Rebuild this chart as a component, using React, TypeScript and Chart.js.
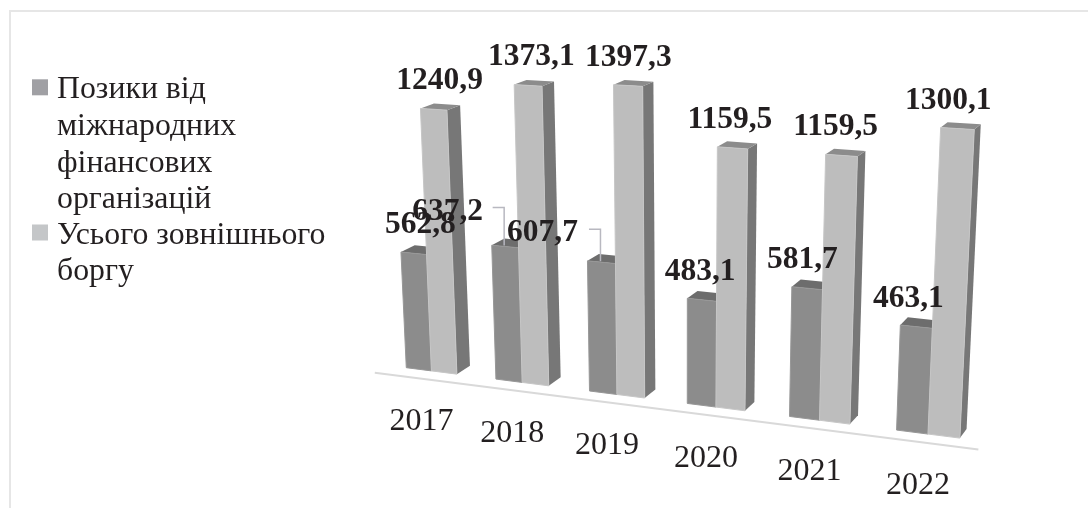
import React, { useEffect, useRef } from "react";
import { Chart, registerables } from "chart.js";

Chart.register(...registerables);

// ---- data ----
const years = ["2017", "2018", "2019", "2020", "2021", "2022"];
const loans = [562.8, 637.2, 607.7, 483.1, 581.7, 463.1];
const totalDebt = [1240.9, 1373.1, 1397.3, 1159.5, 1159.5, 1300.1];
const loansLabel = ["Позики від", "міжнародних", "фінансових", "організацій"];
const totalLabel = ["Усього зовнішнього", "боргу"];

// ---- view (how the flat plot is projected into the tilted 3D look) ----
const VALUE_MAX = 1400;
const CORNER_00 = [387.5, 365.3];
const CORNER_10 = [984.2, 441.2];
const CORNER_11 = [1001.2, 106];
const CORNER_01 = [373, 70.5];
const VANISH = [1492, -286];
const BAR_DEPTH = 0.0126;
const AXIS_DEPTH = -0.0115;

const INK = "#231f20";
const DARK = { front: "#8c8c8c", top: "#6d6d6d", side: "#6d6d6d", edge: "#979797" };
const LIGHT = { front: "#bdbdbd", top: "#8c8c8c", side: "#777777", edge: "#c6c6c6" };

// labels that were dragged away from their bars, with a leader line
const movedLoanLabels: Record<number, [number, number]> = { 1: [-57.5, -27], 2: [-59, -21] };

function makeProjection() {
  const [x0, y0] = CORNER_00;
  const [x1, y1] = CORNER_10;
  const [x2, y2] = CORNER_11;
  const [x3, y3] = CORNER_01;
  const dx1 = x1 - x2, dy1 = y1 - y2, dx2 = x3 - x2, dy2 = y3 - y2;
  const sx = x0 - x1 + x2 - x3, sy = y0 - y1 + y2 - y3;
  const den = dx1 * dy2 - dx2 * dy1;
  const g = (sx * dy2 - dx2 * sy) / den;
  const h = (dx1 * sy - sx * dy1) / den;
  const a = x1 - x0 + g * x1, b = x3 - x0 + h * x3;
  const d = y1 - y0 + g * y1, e = y3 - y0 + h * y3;
  return (u: number, v: number) => {
    const w = g * u + h * v + 1;
    return [(a * u + b * v + x0) / w, (d * u + e * v + y0) / w];
  };
}
const projectUnit = makeProjection();
const toDepth = (p: number[], k: number) => [p[0] + k * (VANISH[0] - p[0]), p[1] + k * (VANISH[1] - p[1])];

function poly(ctx: CanvasRenderingContext2D, pts: number[][], fill: string, edge?: string) {
  ctx.beginPath();
  pts.forEach((p, i) => (i ? ctx.lineTo(p[0], p[1]) : ctx.moveTo(p[0], p[1])));
  ctx.closePath();
  ctx.fillStyle = fill;
  ctx.fill();
  if (edge) {
    ctx.strokeStyle = edge;
    ctx.lineWidth = 1;
    ctx.stroke();
  }
}

const tilted3d = {
  id: "tilted3d",
  beforeDatasetsDraw(chart: any) {
    const ctx: CanvasRenderingContext2D = chart.ctx;
    const area = chart.chartArea;
    const P = (px: number, py: number) =>
      projectUnit((px - area.left) / (area.right - area.left), (area.bottom - py) / (area.bottom - area.top));

    ctx.save();
    // frame
    ctx.fillStyle = "#e6e6e6";
    ctx.fillRect(9, 10, 1079, 2);
    ctx.fillRect(9, 10, 2, 498);

    // axis line
    const a0 = toDepth(P(area.left, area.bottom), AXIS_DEPTH);
    const a1 = toDepth(P(area.right, area.bottom), AXIS_DEPTH);
    ctx.strokeStyle = "#d9d9d9";
    ctx.lineWidth = 2;
    ctx.beginPath();
    ctx.moveTo(a0[0], a0[1]);
    ctx.lineTo(a1[0], a1[1]);
    ctx.stroke();

    const metas = [chart.getDatasetMeta(0), chart.getDatasetMeta(1)];
    const skins = [DARK, LIGHT];
    const tops: number[][][] = [[], []];

    years.forEach((_, i) => {
      metas.forEach((meta, s) => {
        const el = meta.data[i];
        const skin = skins[s];
        const l = el.x - el.width / 2, r = el.x + el.width / 2;
        const fl = P(l, el.base), fr = P(r, el.base), tr = P(r, el.y), tl = P(l, el.y);
        poly(ctx, [fr, toDepth(fr, BAR_DEPTH), toDepth(tr, BAR_DEPTH), tr], skin.side);
        poly(ctx, [tl, tr, toDepth(tr, BAR_DEPTH), toDepth(tl, BAR_DEPTH)], skin.top);
        poly(ctx, [fl, fr, tr, tl], skin.front, skin.edge);
        tops[s][i] = [(tl[0] + tr[0]) / 2, (tl[1] + tr[1]) / 2];
      });
    });

    // year labels along the tilted axis
    ctx.textAlign = "center";
    ctx.textBaseline = "alphabetic";
    ctx.fillStyle = INK;
    ctx.font = '32px "Liberation Serif"';
    years.forEach((_, i) => {
      const el = metas[0].data[i];
      const b = P(el.x + el.width / 2, el.base);
      ctx.fillText(chart.data.labels[i], b[0] - 10, b[1] + 59.5);
    });

    // value labels
    const fmt = (v: number) => v.toFixed(1).replace(".", ",");
    ctx.font = 'bold 31.5px "Liberation Serif"';
    chart.data.datasets.forEach((ds: any, s: number) => {
      ds.data.forEach((v: number, i: number) => {
        const t = tops[s][i];
        const moved = s === 0 ? movedLoanLabels[i] : undefined;
        let x = t[0] - (t[0] - 640) * 0.029;
        let y = t[1] - 20;
        if (moved) {
          x = t[0] + moved[0];
          y = t[1] + moved[1];
          const ty = y - 12;
          ctx.strokeStyle = "#b8b8c0";
          ctx.lineWidth = 1.5;
          ctx.beginPath();
          ctx.moveTo(t[0] - 12.5, ty);
          ctx.lineTo(t[0] - 1, ty);
          ctx.lineTo(t[0] - 1, t[1] - 1);
          ctx.stroke();
        }
        ctx.fillStyle = INK;
        ctx.fillText(fmt(v), x, y);
      });
    });

    // legend
    const rows: [string[], string, number][] = [
      [loansLabel, "#a0a0a4", 98.3],
      [totalLabel, "#c4c6c8", 243.5],
    ];
    ctx.textAlign = "left";
    ctx.font = '31.8px "Liberation Serif"';
    rows.forEach(([lines, color, base]) => {
      ctx.fillStyle = color;
      ctx.fillRect(32, base - 19, 16, 16);
      ctx.fillStyle = INK;
      lines.forEach((line, k) => ctx.fillText(line, 57, base + k * 36.6));
    });
    ctx.restore();
    return false;
  },
};

export default function App() {
  const ref = useRef<HTMLCanvasElement>(null);
  useEffect(() => {
    const chart = new Chart(ref.current as HTMLCanvasElement, {
      type: "bar",
      data: {
        labels: years,
        datasets: [
          { label: loansLabel.join(" "), data: loans, backgroundColor: DARK.front },
          { label: totalLabel.join(" "), data: totalDebt, backgroundColor: LIGHT.front },
        ],
      },
      options: {
        responsive: false,
        animation: false,
        devicePixelRatio: 1,
        layout: { padding: 0 },
        datasets: { bar: { categoryPercentage: 0.57, barPercentage: 1 } },
        scales: {
          x: { display: false },
          y: { display: false, min: 0, max: VALUE_MAX },
        },
        plugins: { legend: { display: false }, tooltip: { enabled: false }, title: { display: false } },
      },
      plugins: [tilted3d],
    } as any);
    return () => chart.destroy();
  }, []);
  return (
    <div style={{ position: "fixed", left: 0, top: 0, width: 1088, height: 508, background: "#fff" }}>
      <canvas ref={ref} width={1088} height={508} style={{ display: "block" }} />
    </div>
  );
}
